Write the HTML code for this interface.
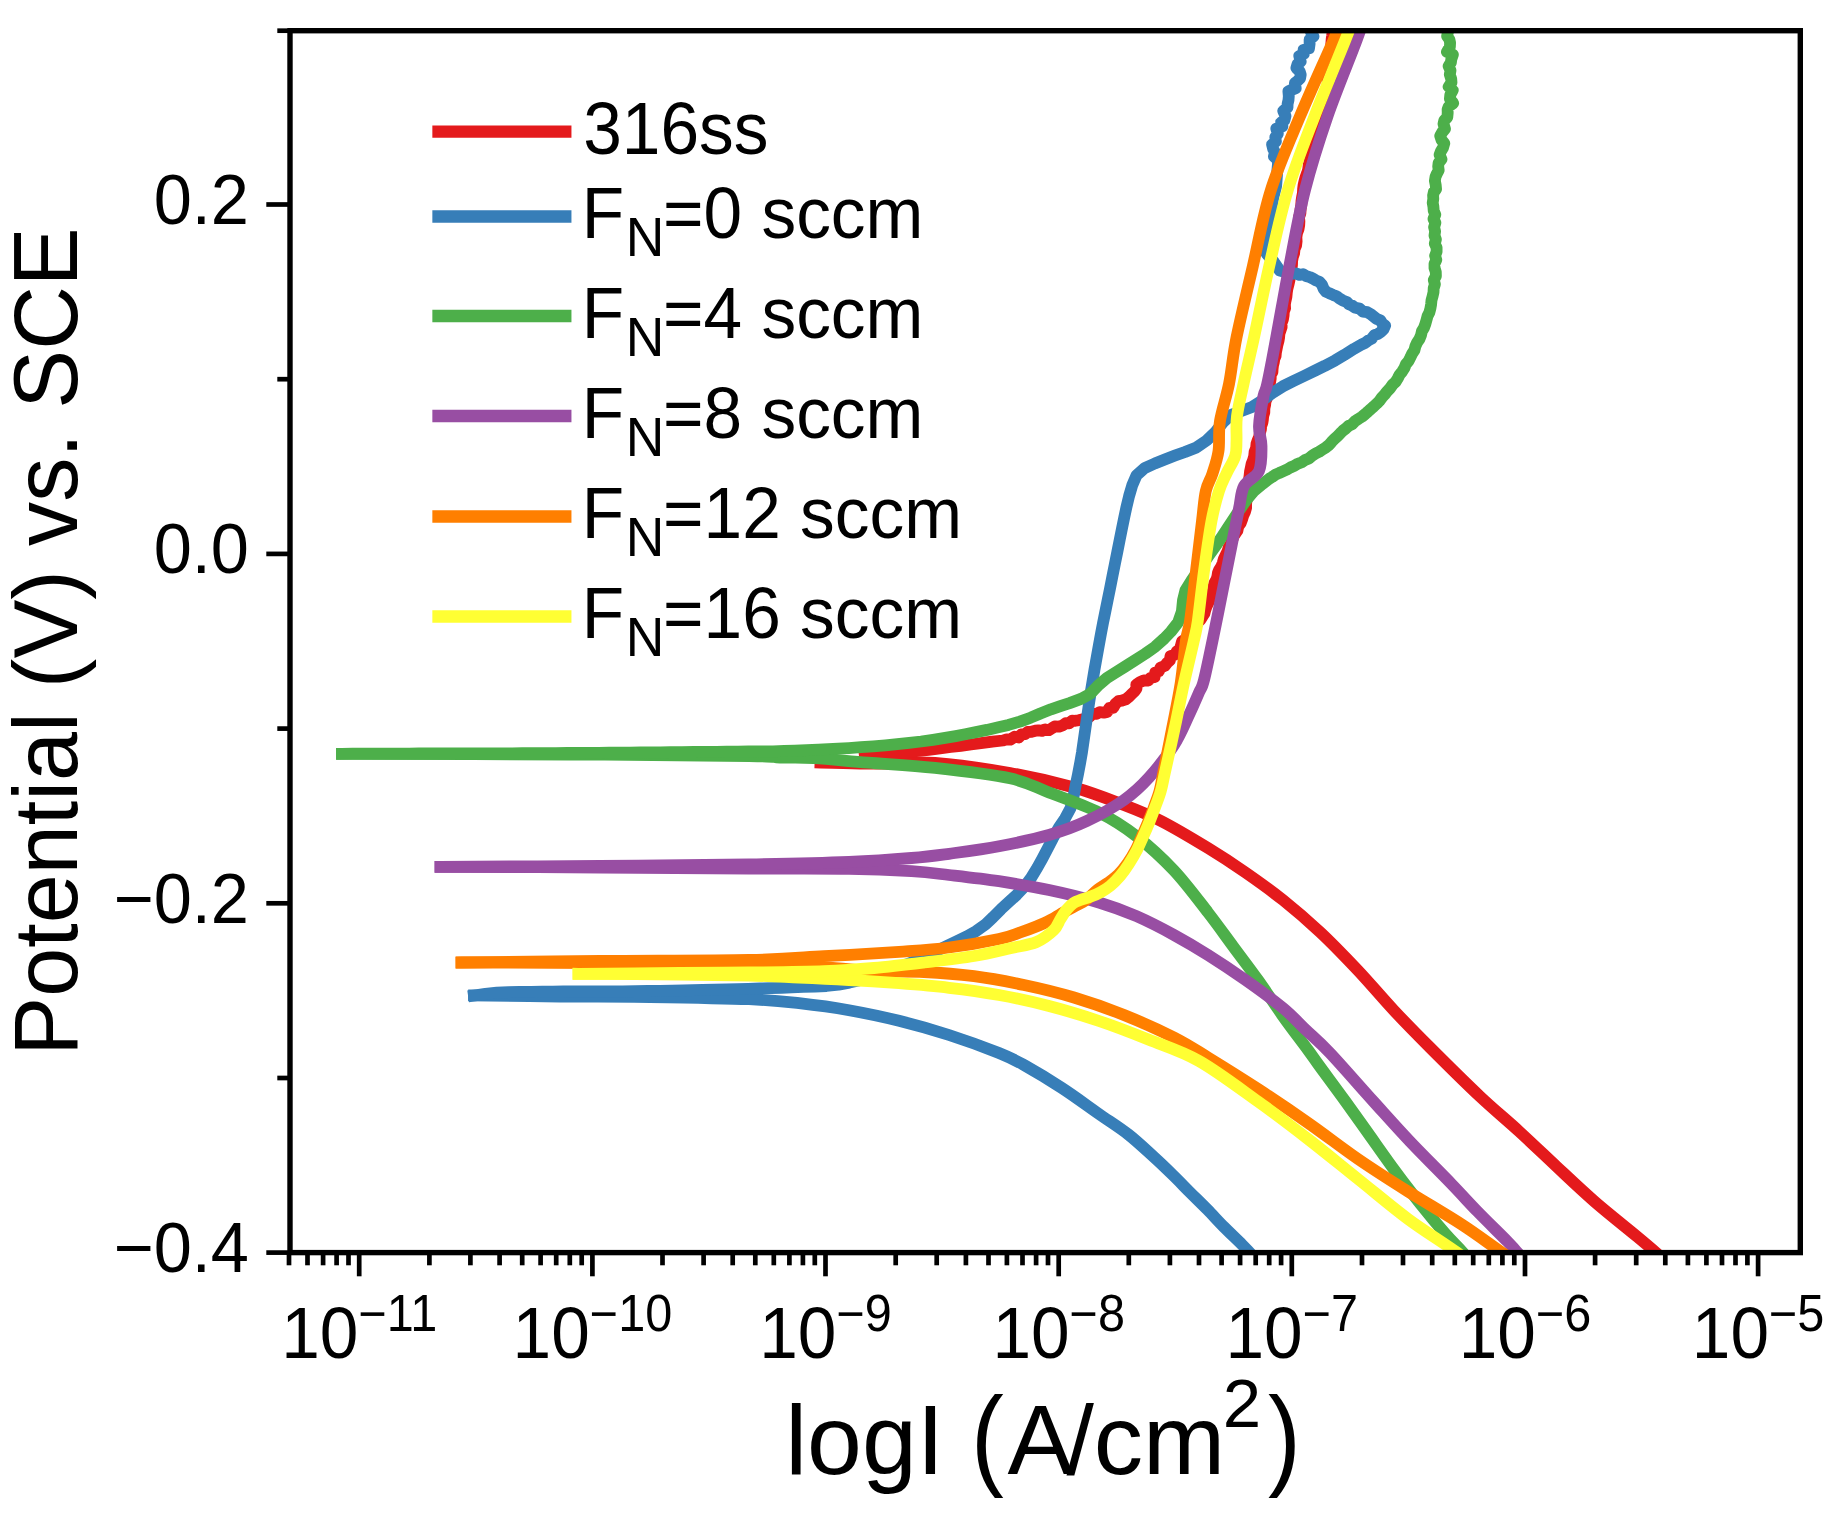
<!DOCTYPE html>
<html><head><meta charset="utf-8"><title>Polarization curves</title>
<style>
html,body{margin:0;padding:0;background:#fff;}
svg{display:block;}
text{font-family:"Liberation Sans",sans-serif;fill:#000;}
</style></head><body>
<svg width="1836" height="1536" viewBox="0 0 1836 1536">
<rect width="1836" height="1536" fill="#fff"/>
<defs><clipPath id="c"><rect x="290.0" y="30.7" width="1510.3" height="1221.8999999999999"/></clipPath></defs>

<g clip-path="url(#c)" fill="none" stroke-linecap="square" stroke-linejoin="round">
<path d="M820.5,762.6 C827.1,762.8 848.4,763.4 860.0,763.5 C871.6,763.6 877.5,763.6 890.0,763.5 C902.5,763.4 915.0,761.4 935.0,763.0 C955.0,764.6 986.8,768.9 1010.0,773.0 C1033.2,777.1 1055.0,782.2 1074.0,787.5 C1093.0,792.8 1109.4,799.4 1124.0,805.0 C1138.6,810.6 1147.5,814.1 1161.5,821.2 C1175.5,828.4 1194.0,839.5 1208.0,848.0 C1222.0,856.5 1233.0,863.8 1245.5,872.5 C1258.0,881.2 1270.5,890.0 1283.0,900.0 C1295.5,910.0 1308.0,920.8 1320.5,932.5 C1333.0,944.2 1345.8,957.6 1358.0,970.5 C1370.2,983.4 1381.5,997.2 1393.5,1010.0 C1405.5,1022.8 1415.6,1033.1 1430.0,1047.5 C1444.4,1061.9 1465.1,1082.5 1480.0,1096.5 C1494.9,1110.5 1506.5,1119.8 1519.2,1131.5 C1532.0,1143.2 1544.0,1154.8 1556.5,1166.5 C1569.0,1178.2 1581.1,1189.8 1594.5,1201.5 C1607.9,1213.2 1626.8,1228.0 1637.0,1236.5 C1647.2,1245.0 1649.0,1246.5 1656.0,1252.6 C1663.0,1258.7 1675.2,1269.6 1679.0,1273.0" stroke="#e41a1c" stroke-width="11.8"/>
<path d="M865.0,757.0 L875.3,755.9 L886.7,754.6 L897.6,753.4 L907.9,752.2 L918.4,751.0 L928.6,749.8 L940.0,748.4 L950.7,747.0 L960.8,745.8 L971.0,744.5 L980.9,743.2 L992.3,741.6 L1003.1,740.5 L1006.7,739.3 L1010.1,739.7 L1014.7,736.7 L1018.9,737.5 L1021.2,734.5 L1024.8,734.2 L1027.7,732.0 L1031.4,731.8 L1035.4,730.7 L1038.6,730.3 L1042.1,730.8 L1045.2,729.4 L1048.8,730.2 L1051.9,728.3 L1054.8,726.4 L1059.1,726.6 L1063.1,725.2 L1065.8,723.1 L1069.3,723.3 L1072.0,720.7 L1075.4,720.8 L1078.6,720.2 L1082.7,719.3 L1086.7,718.8 L1089.7,716.6 L1092.2,713.8 L1096.6,713.9 L1099.7,712.2 L1103.8,712.6 L1107.2,711.9 L1109.4,708.0 L1113.3,707.8 L1115.4,703.9 L1118.3,701.2 L1121.8,700.7 L1125.6,699.4 L1128.7,697.1 L1131.6,694.2 L1134.5,691.3 L1136.5,688.5 L1136.3,684.6 L1139.9,682.2 L1143.8,680.5 L1148.4,680.5 L1150.9,677.5 L1154.6,677.1 L1155.2,672.5 L1158.9,671.2 L1160.4,667.7 L1164.7,665.9 L1167.4,662.6 L1169.9,660.4 L1170.5,656.1 L1175.0,654.7 L1176.7,651.6 L1179.9,648.9 L1181.1,645.0 L1182.0,641.5 L1186.0,638.8 L1188.2,636.5 L1188.9,631.9 L1190.9,629.4 L1194.0,627.5 L1196.4,625.1 L1198.1,622.1 L1200.4,619.8 L1202.6,616.3 L1204.4,613.6 L1205.4,609.6 L1206.8,605.8 L1208.6,602.1 L1210.3,598.2 L1211.5,594.3 L1212.9,590.7 L1213.5,586.9 L1214.4,583.1 L1216.5,579.4 L1217.4,576.4 L1217.9,573.0 L1219.1,570.0 L1221.2,566.8 L1222.7,563.1 L1223.8,559.1 L1225.6,555.3 L1227.5,551.5 L1228.7,547.4 L1230.7,543.8 L1232.2,540.1 L1233.6,536.2 L1235.5,533.4 L1237.4,530.7 L1238.3,526.4 L1240.7,523.0 L1242.2,519.2 L1243.3,515.4 L1244.9,512.0 L1246.1,507.9 L1246.1,503.6 L1246.7,499.5 L1247.2,495.5 L1247.1,491.6 L1247.1,487.8 L1248.0,483.8 L1249.0,479.7 L1249.6,475.7 L1250.0,471.8 L1250.8,467.9 L1251.6,463.9 L1253.1,460.0 L1254.2,456.1 L1254.6,451.9 L1256.1,448.0 L1256.5,443.9 L1257.7,440.2 L1259.2,436.7 L1260.0,432.7 L1260.9,429.5 L1261.2,425.9 L1262.4,422.7 L1262.9,419.5 L1263.2,416.0 L1264.3,412.5 L1264.4,408.4 L1265.1,405.1 L1265.5,401.4 L1267.2,397.5 L1267.5,393.7 L1268.6,390.3 L1268.7,386.5 L1270.0,382.7 L1270.7,378.6 L1270.7,375.2 L1272.4,372.2 L1272.6,368.9 L1273.0,365.5 L1273.8,362.3 L1274.3,359.0 L1275.6,355.9 L1275.9,352.6 L1276.7,348.5 L1277.5,344.6 L1278.5,341.0 L1279.1,337.5 L1279.4,333.8 L1280.5,330.4 L1281.6,327.2 L1281.6,323.0 L1283.0,319.2 L1283.6,315.4 L1283.8,311.8 L1285.1,308.3 L1284.9,304.5 L1285.5,300.9 L1286.4,296.9 L1286.8,292.7 L1287.4,288.7 L1288.4,284.8 L1289.3,280.9 L1290.0,277.0 L1291.0,273.1 L1291.4,269.1 L1292.0,265.0 L1292.1,261.0 L1292.8,257.1 L1294.1,253.3 L1294.5,249.3 L1296.1,245.5 L1296.6,241.4 L1296.4,237.2 L1297.0,233.1 L1298.5,229.1 L1299.2,225.3 L1299.4,221.3 L1299.0,217.2 L1300.4,213.3 L1300.6,209.3 L1301.3,205.2 L1301.5,201.1 L1302.1,197.1 L1302.9,193.1 L1303.1,189.0 L1303.6,185.0 L1304.5,181.0 L1305.6,177.1 L1307.1,173.2 L1308.2,169.2 L1308.7,165.1 L1309.6,161.2 L1310.5,157.3 L1311.7,153.6 L1313.4,150.1 L1313.4,146.8 L1315.3,143.1 L1316.9,139.5 L1317.8,135.7 L1319.3,132.1 L1319.7,128.1 L1321.4,124.5 L1322.8,120.4 L1322.8,117.0 L1323.7,113.3 L1324.6,109.5 L1325.6,105.5 L1325.9,101.3 L1326.3,98.1 L1326.5,94.9 L1326.6,91.6 L1327.7,88.5 L1327.9,84.3 L1327.4,80.1 L1328.9,76.3 L1329.1,72.6 L1328.6,68.7 L1329.8,65.2 L1330.4,61.9 L1330.1,57.7 L1330.8,53.9 L1330.6,50.1 L1331.1,46.5 L1331.4,42.8 L1331.7,38.9 L1332.2,35.6 L1332.5,32.2 L1333.3,28.7 L1333.8,25.3 L1334.5,22.0 L1335.0,18.0 L1334.2,14.5 L1335.0,12.0" stroke="#e41a1c" stroke-width="11.8"/>
<path d="M474.0,995.5 C488.3,995.7 530.7,996.2 560.0,996.5 C589.3,996.8 618.5,996.5 650.0,997.0 C681.5,997.5 724.2,998.2 749.0,999.2 C773.8,1000.3 782.3,1001.4 799.0,1003.2 C815.7,1005.1 832.3,1007.3 849.0,1010.2 C865.7,1013.2 882.3,1016.6 899.0,1020.8 C915.7,1024.9 932.3,1029.6 949.0,1035.0 C965.7,1040.4 986.5,1048.0 999.0,1053.0 C1011.5,1058.0 1013.6,1059.2 1024.0,1065.0 C1034.4,1070.8 1049.0,1079.6 1061.5,1087.8 C1074.0,1095.9 1087.8,1106.2 1099.0,1114.0 C1110.2,1121.8 1119.2,1127.3 1128.4,1134.5 C1137.6,1141.7 1146.9,1150.7 1154.3,1157.4 C1161.7,1164.1 1166.8,1169.1 1172.7,1174.9 C1178.7,1180.7 1184.2,1186.5 1190.0,1192.3 C1195.8,1198.1 1201.8,1203.9 1207.5,1209.7 C1213.2,1215.5 1218.2,1221.2 1224.0,1227.0 C1229.8,1232.8 1237.7,1240.3 1242.0,1244.6 C1246.3,1248.9 1245.7,1248.4 1250.0,1253.0 C1254.3,1257.6 1265.0,1268.8 1268.0,1272.0" stroke="#377eb8" stroke-width="11.8"/>
<path d="M474.0,995.5 L485.3,993.8 L496.8,992.7 L508.5,992.2 L519.2,991.9 L531.2,991.8 L542.1,991.7 L552.6,991.6 L563.4,991.5 L574.1,991.4 L585.5,991.4 L597.4,991.3 L609.8,991.3 L622.5,991.3 L635.2,991.2 L647.9,991.0 L659.9,990.8 L672.3,990.6 L683.1,990.4 L692.8,990.2 L702.5,989.9 L714.2,989.7 L726.3,989.3 L737.5,989.1 L748.2,988.8 L759.8,988.5 L770.8,988.1 L781.7,987.8 L791.8,987.4 L803.1,986.8 L815.0,986.5 L826.5,986.0 L838.6,984.7 L849.4,982.6 L860.6,979.9 L872.4,976.5 L884.3,972.7 L896.1,968.6 L907.5,964.1 L917.4,959.9 L926.3,955.8 L936.8,950.9 L947.2,945.8 L956.6,941.3 L966.9,936.3 L976.2,931.1 L985.7,924.2 L992.9,917.4 L1000.9,909.3 L1008.5,902.2 L1016.7,894.8 L1024.8,886.3 L1031.1,877.9 L1037.4,867.5 L1042.2,858.8 L1047.9,848.0 L1052.8,838.5 L1058.7,827.8 L1065.0,818.6 L1070.5,808.2 L1073.5,796.6 L1075.5,786.1 L1077.9,774.7 L1080.2,762.6 L1082.0,752.2 L1083.7,740.3 L1085.5,727.8 L1087.3,715.5 L1089.0,703.7 L1090.8,691.8 L1092.6,681.1 L1094.5,669.5 L1096.7,657.3 L1098.9,645.0 L1101.0,633.5 L1103.0,623.0 L1105.4,611.3 L1107.7,599.9 L1110.1,588.1 L1112.4,576.3 L1114.8,564.4 L1117.2,552.5 L1119.6,540.3 L1122.0,528.4 L1124.2,517.6 L1126.3,507.8 L1129.1,496.0 L1132.3,485.1 L1136.5,475.4 L1144.6,468.2 L1154.8,463.5 L1164.8,459.5 L1175.0,455.6 L1185.0,452.0 L1196.5,447.4 L1206.6,440.5 L1215.2,432.3 L1222.6,422.8 L1231.3,414.7 L1242.8,410.5 L1252.0,407.0 L1262.3,400.5 L1272.3,393.0 L1282.7,386.4 L1293.5,381.0 L1304.0,376.0 L1315.0,370.6 L1324.6,365.9 L1335.1,360.4 L1344.3,354.9 L1354.0,348.8 L1361.4,344.7 L1365.2,342.9 L1368.4,340.4 L1371.7,338.6 L1374.5,335.0 L1378.2,333.8 L1381.1,331.7 L1383.6,329.1 L1385.1,325.7 L1382.1,323.3 L1380.3,320.2 L1376.6,318.9 L1373.8,316.6 L1370.7,314.1 L1367.2,312.2 L1362.9,311.6 L1359.6,308.6 L1355.4,307.8 L1352.0,305.5 L1349.0,304.3 L1346.7,301.9 L1342.7,300.4 L1339.3,298.4 L1336.5,296.2 L1333.1,294.9 L1329.3,293.3 L1326.0,291.7 L1323.6,288.7 L1322.0,284.8 L1319.6,281.9 L1315.9,280.3 L1313.0,278.6 L1309.9,277.1 L1306.7,276.3 L1303.0,274.2 L1299.6,274.9 L1295.6,273.3 L1291.5,273.8 L1279.8,270.6 L1273.9,262.0 L1266.5,253.6 L1265.9,242.3 L1267.7,232.5 L1269.4,222.0 L1271.2,209.6 L1273.2,197.8 L1276.1,186.2 L1277.1,173.8 L1278.0,163.5 L1277.4,159.4 L1273.9,156.5 L1274.9,152.2 L1273.2,149.0 L1272.1,144.5 L1275.9,141.6 L1275.3,137.2 L1277.8,133.7 L1276.3,128.5 L1282.4,126.5 L1281.2,122.4 L1284.5,120.2 L1285.5,116.0 L1283.3,111.1 L1287.5,107.5 L1287.6,104.1 L1288.5,100.0 L1288.8,96.1 L1288.4,91.4 L1292.0,89.7 L1295.7,88.2 L1294.9,83.1 L1297.8,80.7 L1300.1,78.4 L1300.7,74.7 L1299.7,71.3 L1296.4,68.0 L1297.5,64.2 L1300.7,61.7 L1299.3,56.0 L1303.8,53.8 L1303.6,49.9 L1309.0,48.4 L1309.6,44.0 L1309.6,39.6 L1313.4,36.4 L1311.0,31.9 L1312.2,27.9 L1315.3,25.0 L1314.5,21.4 L1315.3,18.2 L1314.0,15.0" stroke="#377eb8" stroke-width="11.8"/>
<path d="M342.0,753.8 C380.0,753.9 502.2,754.1 570.0,754.5 C637.8,754.9 714.0,755.5 749.0,756.0 C784.0,756.5 769.2,757.1 780.0,757.5 C790.8,757.9 799.3,757.2 814.0,758.1 C828.7,759.0 847.8,761.0 868.0,762.6 C888.2,764.2 911.3,765.3 935.0,767.9 C958.7,770.5 991.0,774.2 1010.0,778.3 C1029.0,782.4 1034.2,786.8 1049.0,792.5 C1063.8,798.2 1084.4,805.2 1099.0,812.5 C1113.6,819.8 1124.0,826.6 1136.5,836.2 C1149.0,845.9 1162.1,857.8 1174.0,870.5 C1185.9,883.2 1198.2,899.9 1208.0,912.5 C1217.8,925.1 1224.7,935.0 1233.0,946.2 C1241.3,957.5 1249.7,968.3 1258.0,980.0 C1266.3,991.7 1274.7,1004.6 1283.0,1016.2 C1291.3,1027.9 1302.2,1042.0 1308.0,1050.0 C1313.8,1058.0 1311.8,1055.4 1318.0,1064.0 C1324.2,1072.6 1336.8,1089.4 1345.5,1101.5 C1354.2,1113.6 1362.2,1124.8 1370.5,1136.5 C1378.8,1148.2 1387.2,1160.2 1395.5,1171.5 C1403.8,1182.8 1412.2,1193.6 1420.5,1204.0 C1428.8,1214.4 1438.4,1225.9 1445.5,1234.0 C1452.6,1242.1 1457.2,1246.1 1463.0,1252.6 C1468.8,1259.1 1477.2,1269.6 1480.0,1273.0" stroke="#4daf4a" stroke-width="11.8"/>
<path d="M342.0,753.8 L352.5,753.7 L363.4,753.7 L374.1,753.7 L385.1,753.6 L396.8,753.6 L409.2,753.6 L418.9,753.5 L428.9,753.5 L439.1,753.5 L449.4,753.5 L459.9,753.4 L470.4,753.4 L481.0,753.4 L491.5,753.3 L501.9,753.3 L512.2,753.3 L522.3,753.2 L532.2,753.2 L543.8,753.1 L555.9,753.1 L567.3,753.0 L578.0,753.0 L588.4,752.9 L598.8,752.8 L609.2,752.7 L619.6,752.7 L630.0,752.6 L640.3,752.5 L650.4,752.4 L660.4,752.3 L670.2,752.2 L681.8,752.1 L694.0,752.0 L705.6,751.9 L716.5,751.8 L726.6,751.7 L738.0,751.6 L748.4,751.5 L761.9,751.4 L773.2,751.4 L784.4,750.9 L794.8,750.6 L806.6,750.1 L818.3,749.6 L828.2,749.2 L838.1,748.7 L848.9,748.1 L861.0,747.2 L873.3,746.3 L885.4,745.3 L897.3,744.1 L909.2,742.9 L921.1,741.5 L933.0,739.8 L945.1,737.9 L955.7,736.1 L965.2,734.3 L974.8,732.4 L987.0,729.9 L998.4,727.3 L1008.5,724.9 L1019.9,721.6 L1030.6,717.7 L1040.4,713.5 L1051.0,709.3 L1060.3,706.1 L1069.6,703.1 L1081.0,698.9 L1090.6,693.6 L1098.4,685.2 L1106.9,677.9 L1117.2,671.4 L1125.4,666.4 L1135.8,659.8 L1145.4,653.6 L1155.2,646.7 L1164.3,638.5 L1171.0,631.5 L1178.1,622.4 L1181.9,611.3 L1183.0,600.2 L1185.4,590.4 L1191.3,580.9 L1197.3,572.0 L1203.4,563.3 L1209.4,554.7 L1215.9,545.5 L1221.9,536.7 L1227.8,527.8 L1234.4,517.8 L1240.3,508.8 L1246.6,499.7 L1254.0,491.0 L1262.7,483.8 L1269.4,478.6 L1272.1,477.0 L1275.5,474.7 L1279.2,473.0 L1282.9,471.4 L1286.7,469.7 L1290.4,467.5 L1294.2,465.8 L1297.9,463.7 L1301.8,462.3 L1305.1,459.9 L1308.9,458.4 L1312.1,455.7 L1315.6,453.5 L1319.2,451.7 L1322.4,449.6 L1325.9,447.4 L1329.1,444.8 L1331.7,441.8 L1334.4,438.9 L1337.5,436.3 L1340.4,433.2 L1342.8,430.8 L1345.8,428.5 L1348.6,425.9 L1352.2,424.2 L1355.1,421.2 L1358.5,418.9 L1362.1,416.6 L1365.4,413.9 L1367.8,411.8 L1370.7,409.1 L1373.7,406.5 L1376.6,403.8 L1379.5,400.9 L1381.9,397.5 L1384.7,394.5 L1387.3,391.2 L1390.2,388.1 L1392.6,384.6 L1395.6,381.9 L1397.7,378.5 L1399.5,374.9 L1402.1,371.7 L1404.3,368.2 L1405.9,364.3 L1408.5,361.1 L1410.4,357.4 L1412.1,353.7 L1414.4,350.2 L1415.4,346.2 L1417.1,342.5 L1419.4,339.1 L1421.0,335.3 L1421.9,331.3 L1424.0,327.7 L1425.4,323.9 L1426.5,320.0 L1427.5,316.2 L1429.3,312.6 L1430.4,308.5 L1431.1,304.4 L1431.5,300.3 L1432.6,296.3 L1433.5,292.3 L1433.7,288.2 L1434.9,284.2 L1433.8,280.0 L1435.9,276.1 L1435.8,272.0 L1434.5,267.9 L1434.5,263.8 L1436.3,259.8 L1435.1,255.7 L1436.6,251.7 L1436.6,247.6 L1434.8,243.6 L1435.9,239.5 L1434.5,235.5 L1435.1,231.3 L1434.1,227.2 L1435.4,222.9 L1433.5,218.9 L1435.3,214.6 L1433.7,210.6 L1433.4,206.6 L1432.7,202.8 L1433.3,198.8 L1433.1,195.5 L1433.8,192.2 L1436.1,189.2 L1435.7,185.0 L1434.9,180.8 L1435.5,176.9 L1437.0,173.4 L1438.7,170.2 L1438.2,166.4 L1438.6,162.9 L1441.5,159.3 L1439.6,154.8 L1440.8,151.5 L1443.0,147.7 L1444.3,143.4 L1441.5,139.8 L1440.2,135.9 L1442.3,132.1 L1445.0,128.9 L1443.5,123.8 L1444.3,120.5 L1447.3,117.2 L1447.7,113.0 L1447.6,109.6 L1448.7,106.6 L1453.2,103.2 L1449.9,98.9 L1450.3,94.9 L1452.7,90.2 L1448.7,86.8 L1451.5,82.5 L1451.2,78.8 L1449.8,74.5 L1450.5,70.4 L1448.6,66.1 L1450.9,62.5 L1451.3,59.3 L1452.9,54.6 L1446.9,51.9 L1449.9,46.8 L1450.1,42.7 L1449.4,39.5 L1447.1,36.2 L1447.8,32.7 L1445.8,28.7 L1443.9,25.1 L1446.5,25.0" stroke="#4daf4a" stroke-width="11.8"/>
<path d="M440.5,866.8 C467.1,866.9 548.6,867.2 600.0,867.5 C651.4,867.8 707.5,868.3 749.0,868.5 C790.5,868.7 821.9,868.3 849.0,868.8 C876.1,869.2 894.8,870.2 911.5,871.2 C928.2,872.3 934.4,873.3 949.0,875.0 C963.6,876.7 982.3,878.8 999.0,881.2 C1015.7,883.8 1032.3,886.5 1049.0,890.0 C1065.7,893.5 1084.4,898.1 1099.0,902.5 C1113.6,906.9 1124.0,910.8 1136.5,916.2 C1149.0,921.7 1162.1,928.5 1174.0,935.0 C1185.9,941.5 1196.1,947.5 1208.0,955.0 C1219.9,962.5 1233.0,971.2 1245.5,980.0 C1258.0,988.8 1272.9,999.7 1283.0,1008.0 C1293.1,1016.3 1298.2,1022.6 1306.0,1030.0 C1313.8,1037.4 1318.2,1040.6 1329.5,1052.5 C1340.8,1064.4 1360.1,1086.7 1373.5,1101.5 C1386.9,1116.3 1397.0,1127.8 1410.0,1141.5 C1423.0,1155.2 1440.2,1172.3 1451.5,1184.0 C1462.8,1195.7 1468.2,1201.9 1477.5,1211.5 C1486.8,1221.1 1501.0,1234.8 1507.5,1241.5 C1514.0,1248.2 1511.8,1246.4 1516.5,1251.5 C1521.2,1256.6 1532.8,1268.6 1536.0,1272.0" stroke="#984ea3" stroke-width="11.8"/>
<path d="M440.5,866.8 C467.1,866.6 548.6,866.4 600.0,866.0 C651.4,865.6 707.5,865.2 749.0,864.5 C790.5,863.8 821.9,863.1 849.0,862.0 C876.1,860.9 894.8,859.4 911.5,858.0 C928.2,856.6 934.4,855.7 949.0,853.8 C963.6,851.8 982.3,849.4 999.0,846.2 C1015.7,843.1 1034.4,839.2 1049.0,835.0 C1063.6,830.8 1074.0,827.1 1086.5,821.2 C1099.0,815.4 1113.6,807.3 1124.0,800.0 C1134.4,792.7 1140.7,786.7 1149.0,777.5 C1157.3,768.3 1167.3,755.4 1174.0,745.0 C1180.7,734.6 1184.8,723.8 1189.0,715.0 C1193.2,706.2 1196.5,698.3 1199.0,692.5 C1201.5,686.7 1201.5,689.8 1204.0,680.0 C1206.5,670.2 1210.7,649.6 1214.0,633.5 C1217.3,617.4 1221.1,598.1 1224.0,583.5 C1226.9,568.9 1229.0,558.5 1231.5,546.0 C1234.0,533.5 1236.9,518.5 1239.0,508.5 C1241.1,498.5 1240.7,492.2 1244.0,486.0 C1247.3,479.8 1256.1,477.7 1259.0,471.0 C1261.9,464.3 1261.5,453.5 1261.5,446.0 C1261.5,438.5 1258.7,434.3 1259.0,426.0 C1259.3,417.7 1262.1,403.0 1263.5,396.0 C1264.9,389.0 1265.1,393.8 1267.2,384.0 C1269.4,374.2 1272.6,357.1 1276.2,337.5 C1279.9,317.9 1284.5,290.9 1289.3,266.3 C1294.1,241.7 1298.6,215.0 1305.0,190.0 C1311.4,165.0 1318.9,141.3 1327.5,116.3 C1336.1,91.3 1350.3,57.4 1356.7,40.0 C1363.1,22.6 1364.5,16.7 1366.0,12.0" stroke="#984ea3" stroke-width="11.8"/>
<path d="M461.5,962.5 C484.6,962.6 552.1,962.8 600.0,963.0 C647.9,963.2 711.7,963.2 749.0,964.0 C786.3,964.8 802.8,966.3 824.0,967.5 C845.2,968.7 859.8,970.5 876.5,971.2 C893.2,972.0 907.8,971.2 924.0,972.0 C940.2,972.8 957.3,974.1 974.0,976.2 C990.7,978.4 1007.3,981.5 1024.0,985.0 C1040.7,988.5 1057.3,992.5 1074.0,997.5 C1090.7,1002.5 1107.3,1008.3 1124.0,1015.0 C1140.7,1021.7 1160.0,1030.4 1174.0,1037.5 C1188.0,1044.6 1194.0,1048.9 1208.0,1057.5 C1222.0,1066.1 1241.3,1078.1 1258.0,1089.0 C1274.7,1099.9 1291.3,1111.1 1308.0,1122.8 C1324.7,1134.4 1341.3,1147.5 1358.0,1159.0 C1374.7,1170.5 1390.8,1180.7 1408.0,1191.5 C1425.2,1202.3 1445.3,1213.8 1461.0,1224.0 C1476.7,1234.2 1489.7,1244.1 1502.0,1252.6 C1514.3,1261.1 1529.5,1271.3 1535.0,1275.0" stroke="#ff7f00" stroke-width="11.8"/>
<path d="M461.5,962.5 C484.6,962.2 552.1,961.4 600.0,961.0 C647.9,960.6 711.7,960.8 749.0,960.0 C786.3,959.2 799.0,957.6 824.0,956.2 C849.0,954.9 878.2,953.2 899.0,951.8 C919.8,950.3 932.3,949.6 949.0,947.5 C965.7,945.4 987.2,941.5 999.0,939.0 C1010.8,936.5 1013.8,934.6 1020.0,932.5 C1026.2,930.4 1031.2,928.6 1036.3,926.5 C1041.4,924.4 1046.0,922.4 1050.5,920.0 C1055.0,917.6 1059.6,914.7 1063.6,912.4 C1067.6,910.1 1070.9,908.4 1074.5,906.4 C1078.1,904.4 1081.5,903.3 1085.4,900.5 C1089.3,897.7 1094.3,892.4 1098.0,889.5 C1101.7,886.6 1104.3,885.5 1107.7,883.0 C1111.1,880.5 1115.2,877.8 1118.5,874.5 C1121.8,871.2 1124.9,867.2 1127.7,863.2 C1130.5,859.2 1133.1,854.8 1135.5,850.3 C1137.9,845.8 1139.8,841.1 1142.0,836.2 C1144.2,831.3 1146.5,825.9 1148.5,821.0 C1150.5,816.1 1152.2,811.9 1154.0,806.9 C1155.8,801.9 1158.0,796.8 1159.6,790.8 C1161.2,784.8 1161.6,781.3 1163.7,770.7 C1165.8,760.1 1169.6,741.5 1172.4,727.0 C1175.2,712.5 1178.3,698.1 1180.6,683.6 C1182.9,669.1 1184.4,650.4 1186.0,640.0 C1187.6,629.6 1188.3,632.5 1190.0,621.0 C1191.7,609.5 1194.0,587.7 1196.0,571.0 C1198.0,554.3 1200.4,534.3 1202.0,521.0 C1203.6,507.7 1204.0,498.9 1205.8,491.0 C1207.5,483.1 1210.4,480.2 1212.5,473.5 C1214.6,466.8 1217.2,459.8 1218.5,451.0 C1219.8,442.2 1218.2,432.2 1220.0,421.0 C1221.8,409.8 1226.2,397.9 1229.0,384.0 C1231.8,370.1 1232.5,357.1 1236.5,337.5 C1240.5,317.9 1247.1,290.9 1252.8,266.3 C1258.5,241.7 1263.0,215.0 1270.9,190.0 C1278.8,165.0 1289.5,141.3 1300.0,116.3 C1310.5,91.3 1326.1,57.4 1333.6,40.0 C1341.1,22.6 1343.1,16.7 1345.0,12.0" stroke="#ff7f00" stroke-width="11.8"/>
<path d="M578.5,973.8 C595.4,973.9 651.6,974.2 680.0,974.5 C708.4,974.8 729.2,975.0 749.0,975.5 C768.8,976.0 782.3,976.8 799.0,977.5 C815.7,978.2 832.3,979.0 849.0,980.0 C865.7,981.0 882.3,982.0 899.0,983.2 C915.7,984.5 932.3,985.8 949.0,987.8 C965.7,989.7 982.3,992.0 999.0,995.0 C1015.7,998.0 1032.3,1001.7 1049.0,1006.0 C1065.7,1010.3 1082.3,1015.4 1099.0,1021.0 C1115.7,1026.6 1132.3,1033.1 1149.0,1039.8 C1165.7,1046.4 1180.8,1050.7 1199.0,1061.0 C1217.2,1071.3 1239.8,1088.5 1258.0,1101.5 C1276.2,1114.5 1291.3,1126.1 1308.0,1139.0 C1324.7,1151.9 1341.3,1165.7 1358.0,1179.0 C1374.7,1192.3 1391.5,1206.7 1408.0,1219.0 C1424.5,1231.3 1444.5,1243.4 1457.0,1252.6 C1469.5,1261.8 1478.7,1270.4 1483.0,1274.0" stroke="#ffff33" stroke-width="11.8"/>
<path d="M578.5,973.8 C595.4,973.6 651.6,973.2 680.0,973.0 C708.4,972.8 725.0,972.8 749.0,972.5 C773.0,972.2 803.2,972.0 824.0,971.2 C844.8,970.5 857.3,969.5 874.0,968.0 C890.7,966.5 907.3,964.5 924.0,962.5 C940.7,960.5 959.4,958.4 974.0,956.0 C988.6,953.6 1001.1,950.3 1011.5,948.0 C1021.9,945.7 1029.5,945.0 1036.5,942.0 C1043.5,939.0 1049.8,933.8 1053.8,930.0 C1057.8,926.2 1058.1,922.8 1060.3,919.4 C1062.5,916.0 1064.6,912.3 1066.8,909.6 C1069.0,906.9 1071.0,904.7 1073.4,903.1 C1075.8,901.5 1078.1,900.9 1081.0,899.8 C1083.9,898.7 1087.5,897.9 1090.8,896.6 C1094.1,895.3 1097.3,894.0 1100.6,892.2 C1103.9,890.4 1107.1,888.4 1110.4,885.7 C1113.7,883.0 1117.1,879.5 1120.2,875.9 C1123.3,872.3 1126.2,868.1 1128.9,863.9 C1131.6,859.7 1134.2,855.3 1136.6,850.8 C1139.0,846.2 1140.9,841.5 1143.1,836.6 C1145.3,831.7 1147.6,826.3 1149.6,821.4 C1151.6,816.5 1153.2,812.3 1155.1,807.2 C1157.0,802.1 1159.1,797.1 1160.8,791.0 C1162.5,784.9 1162.9,781.4 1165.3,770.7 C1167.7,760.1 1171.8,741.6 1174.9,727.1 C1178.0,712.6 1180.7,698.1 1183.9,683.6 C1187.1,669.1 1191.7,650.4 1194.0,640.0 C1196.3,629.6 1196.1,632.5 1197.8,621.0 C1199.4,609.5 1201.7,587.7 1204.0,571.0 C1206.3,554.3 1209.0,534.3 1211.5,521.0 C1214.0,507.7 1216.5,498.9 1219.0,491.0 C1221.5,483.1 1223.8,479.3 1226.5,473.5 C1229.2,467.7 1233.6,461.4 1235.2,456.0 C1236.9,450.6 1236.2,447.7 1236.5,441.0 C1236.8,434.3 1235.8,425.5 1237.0,416.0 C1238.2,406.5 1240.7,397.1 1243.5,384.0 C1246.3,370.9 1249.7,357.1 1254.0,337.5 C1258.3,317.9 1263.6,290.9 1269.2,266.3 C1274.8,241.7 1280.2,215.0 1287.8,190.0 C1295.3,165.0 1304.9,141.3 1314.5,116.3 C1324.1,91.3 1338.4,57.4 1345.3,40.0 C1352.2,22.6 1354.2,16.7 1356.0,12.0" stroke="#ffff33" stroke-width="11.8"/>
</g>
<g stroke="#000" stroke-width="5.4" fill="none" stroke-linecap="butt">
<rect x="290.0" y="30.7" width="1510.3" height="1221.8999999999999"/>
<line x1="266.3" x2="290.0" y1="204.5" y2="204.5" stroke-width="4.7"/>
<line x1="266.3" x2="290.0" y1="553.9" y2="553.9" stroke-width="4.7"/>
<line x1="266.3" x2="290.0" y1="903.3" y2="903.3" stroke-width="4.7"/>
<line x1="266.3" x2="290.0" y1="1252.6" y2="1252.6" stroke-width="4.7"/>
<line x1="277.3" x2="290.0" y1="30.7" y2="30.7" stroke-width="4.7"/>
<line x1="277.3" x2="290.0" y1="379.2" y2="379.2" stroke-width="4.7"/>
<line x1="277.3" x2="290.0" y1="728.6" y2="728.6" stroke-width="4.7"/>
<line x1="277.3" x2="290.0" y1="1078.0" y2="1078.0" stroke-width="4.7"/>
<line x1="359.2" x2="359.2" y1="1252.6" y2="1276.3" stroke-width="4.7"/>
<line x1="592.4" x2="592.4" y1="1252.6" y2="1276.3" stroke-width="4.7"/>
<line x1="825.5" x2="825.5" y1="1252.6" y2="1276.3" stroke-width="4.7"/>
<line x1="1058.7" x2="1058.7" y1="1252.6" y2="1276.3" stroke-width="4.7"/>
<line x1="1291.8" x2="1291.8" y1="1252.6" y2="1276.3" stroke-width="4.7"/>
<line x1="1525.0" x2="1525.0" y1="1252.6" y2="1276.3" stroke-width="4.7"/>
<line x1="1758.1" x2="1758.1" y1="1252.6" y2="1276.3" stroke-width="4.7"/>
<line x1="289.0" x2="289.0" y1="1252.6" y2="1265.3" stroke-width="4.7"/>
<line x1="307.5" x2="307.5" y1="1252.6" y2="1265.3" stroke-width="4.7"/>
<line x1="323.1" x2="323.1" y1="1252.6" y2="1265.3" stroke-width="4.7"/>
<line x1="336.6" x2="336.6" y1="1252.6" y2="1265.3" stroke-width="4.7"/>
<line x1="348.5" x2="348.5" y1="1252.6" y2="1265.3" stroke-width="4.7"/>
<line x1="429.4" x2="429.4" y1="1252.6" y2="1265.3" stroke-width="4.7"/>
<line x1="470.4" x2="470.4" y1="1252.6" y2="1265.3" stroke-width="4.7"/>
<line x1="499.6" x2="499.6" y1="1252.6" y2="1265.3" stroke-width="4.7"/>
<line x1="522.2" x2="522.2" y1="1252.6" y2="1265.3" stroke-width="4.7"/>
<line x1="540.6" x2="540.6" y1="1252.6" y2="1265.3" stroke-width="4.7"/>
<line x1="556.2" x2="556.2" y1="1252.6" y2="1265.3" stroke-width="4.7"/>
<line x1="569.8" x2="569.8" y1="1252.6" y2="1265.3" stroke-width="4.7"/>
<line x1="581.7" x2="581.7" y1="1252.6" y2="1265.3" stroke-width="4.7"/>
<line x1="662.5" x2="662.5" y1="1252.6" y2="1265.3" stroke-width="4.7"/>
<line x1="703.6" x2="703.6" y1="1252.6" y2="1265.3" stroke-width="4.7"/>
<line x1="732.7" x2="732.7" y1="1252.6" y2="1265.3" stroke-width="4.7"/>
<line x1="755.3" x2="755.3" y1="1252.6" y2="1265.3" stroke-width="4.7"/>
<line x1="773.8" x2="773.8" y1="1252.6" y2="1265.3" stroke-width="4.7"/>
<line x1="789.4" x2="789.4" y1="1252.6" y2="1265.3" stroke-width="4.7"/>
<line x1="802.9" x2="802.9" y1="1252.6" y2="1265.3" stroke-width="4.7"/>
<line x1="814.8" x2="814.8" y1="1252.6" y2="1265.3" stroke-width="4.7"/>
<line x1="895.7" x2="895.7" y1="1252.6" y2="1265.3" stroke-width="4.7"/>
<line x1="936.7" x2="936.7" y1="1252.6" y2="1265.3" stroke-width="4.7"/>
<line x1="965.9" x2="965.9" y1="1252.6" y2="1265.3" stroke-width="4.7"/>
<line x1="988.5" x2="988.5" y1="1252.6" y2="1265.3" stroke-width="4.7"/>
<line x1="1006.9" x2="1006.9" y1="1252.6" y2="1265.3" stroke-width="4.7"/>
<line x1="1022.5" x2="1022.5" y1="1252.6" y2="1265.3" stroke-width="4.7"/>
<line x1="1036.1" x2="1036.1" y1="1252.6" y2="1265.3" stroke-width="4.7"/>
<line x1="1048.0" x2="1048.0" y1="1252.6" y2="1265.3" stroke-width="4.7"/>
<line x1="1128.8" x2="1128.8" y1="1252.6" y2="1265.3" stroke-width="4.7"/>
<line x1="1169.9" x2="1169.9" y1="1252.6" y2="1265.3" stroke-width="4.7"/>
<line x1="1199.0" x2="1199.0" y1="1252.6" y2="1265.3" stroke-width="4.7"/>
<line x1="1221.6" x2="1221.6" y1="1252.6" y2="1265.3" stroke-width="4.7"/>
<line x1="1240.1" x2="1240.1" y1="1252.6" y2="1265.3" stroke-width="4.7"/>
<line x1="1255.7" x2="1255.7" y1="1252.6" y2="1265.3" stroke-width="4.7"/>
<line x1="1269.2" x2="1269.2" y1="1252.6" y2="1265.3" stroke-width="4.7"/>
<line x1="1281.1" x2="1281.1" y1="1252.6" y2="1265.3" stroke-width="4.7"/>
<line x1="1362.0" x2="1362.0" y1="1252.6" y2="1265.3" stroke-width="4.7"/>
<line x1="1403.0" x2="1403.0" y1="1252.6" y2="1265.3" stroke-width="4.7"/>
<line x1="1432.2" x2="1432.2" y1="1252.6" y2="1265.3" stroke-width="4.7"/>
<line x1="1454.8" x2="1454.8" y1="1252.6" y2="1265.3" stroke-width="4.7"/>
<line x1="1473.2" x2="1473.2" y1="1252.6" y2="1265.3" stroke-width="4.7"/>
<line x1="1488.8" x2="1488.8" y1="1252.6" y2="1265.3" stroke-width="4.7"/>
<line x1="1502.4" x2="1502.4" y1="1252.6" y2="1265.3" stroke-width="4.7"/>
<line x1="1514.3" x2="1514.3" y1="1252.6" y2="1265.3" stroke-width="4.7"/>
<line x1="1595.1" x2="1595.1" y1="1252.6" y2="1265.3" stroke-width="4.7"/>
<line x1="1636.2" x2="1636.2" y1="1252.6" y2="1265.3" stroke-width="4.7"/>
<line x1="1665.3" x2="1665.3" y1="1252.6" y2="1265.3" stroke-width="4.7"/>
<line x1="1687.9" x2="1687.9" y1="1252.6" y2="1265.3" stroke-width="4.7"/>
<line x1="1706.4" x2="1706.4" y1="1252.6" y2="1265.3" stroke-width="4.7"/>
<line x1="1722.0" x2="1722.0" y1="1252.6" y2="1265.3" stroke-width="4.7"/>
<line x1="1735.5" x2="1735.5" y1="1252.6" y2="1265.3" stroke-width="4.7"/>
<line x1="1747.4" x2="1747.4" y1="1252.6" y2="1265.3" stroke-width="4.7"/>
</g>
<text transform="translate(249.0,223.9) scale(1,1.025)" font-size="68.6" text-anchor="end">0.2</text>
<text transform="translate(249.0,573.3) scale(1,1.025)" font-size="68.6" text-anchor="end">0.0</text>
<text transform="translate(249.0,922.7) scale(1,1.025)" font-size="68.6" text-anchor="end">−0.2</text>
<text transform="translate(249.0,1272.1) scale(1,1.025)" font-size="68.6" text-anchor="end">−0.4</text>
<text transform="translate(359.2,1357.6) scale(1,1.05)" font-size="69.4" text-anchor="middle">10<tspan font-size="48.6" dy="-25.8">−11</tspan></text>
<text transform="translate(592.4,1357.6) scale(1,1.05)" font-size="69.4" text-anchor="middle">10<tspan font-size="48.6" dy="-25.8">−10</tspan></text>
<text transform="translate(825.5,1357.6) scale(1,1.05)" font-size="69.4" text-anchor="middle">10<tspan font-size="48.6" dy="-25.8">−9</tspan></text>
<text transform="translate(1058.7,1357.6) scale(1,1.05)" font-size="69.4" text-anchor="middle">10<tspan font-size="48.6" dy="-25.8">−8</tspan></text>
<text transform="translate(1291.8,1357.6) scale(1,1.05)" font-size="69.4" text-anchor="middle">10<tspan font-size="48.6" dy="-25.8">−7</tspan></text>
<text transform="translate(1525.0,1357.6) scale(1,1.05)" font-size="69.4" text-anchor="middle">10<tspan font-size="48.6" dy="-25.8">−6</tspan></text>
<text transform="translate(1758.1,1357.6) scale(1,1.05)" font-size="69.4" text-anchor="middle">10<tspan font-size="48.6" dy="-25.8">−5</tspan></text>
<text transform="translate(0,1474.2)" font-size="98.6"><tspan x="785.2">logI </tspan><tspan x="970.9" dy="0.8" font-size="110.4" textLength="32.8" lengthAdjust="spacingAndGlyphs">(</tspan><tspan x="1007.6" dy="-0.8">A</tspan><tspan x="1066.4">/cm</tspan><tspan x="1222.8" dy="-47.5" font-size="69.0">2</tspan><tspan x="1268.1" dy="48.3" font-size="110.4" textLength="32.8" lengthAdjust="spacingAndGlyphs">)</tspan></text>
<text transform="translate(77.0,641.5) rotate(-90) scale(1,1.025)" font-size="88.2" text-anchor="middle">Potential (V) vs. SCE</text>
<line x1="438.5" x2="565.3" y1="131.7" y2="131.7" stroke="#e41a1c" stroke-width="12.3" stroke-linecap="square"/>
<text transform="translate(583.2,153.9) scale(1,1.07)" font-size="69.4" text-anchor="start">316ss</text>
<line x1="438.5" x2="565.3" y1="216.5" y2="216.5" stroke="#377eb8" stroke-width="12.3" stroke-linecap="square"/>
<text transform="translate(581.8,238.4) scale(1,1.05)" font-size="69.4" text-anchor="start">F<tspan x="43.9" dy="16.76" font-size="53.4">N</tspan><tspan x="81.3" dy="-16.76">=0 sccm</tspan></text>
<line x1="438.5" x2="565.3" y1="316" y2="316" stroke="#4daf4a" stroke-width="12.3" stroke-linecap="square"/>
<text transform="translate(581.8,337.9) scale(1,1.05)" font-size="69.4" text-anchor="start">F<tspan x="43.9" dy="16.76" font-size="53.4">N</tspan><tspan x="81.3" dy="-16.76">=4 sccm</tspan></text>
<line x1="438.5" x2="565.3" y1="416" y2="416" stroke="#984ea3" stroke-width="12.3" stroke-linecap="square"/>
<text transform="translate(581.8,437.9) scale(1,1.05)" font-size="69.4" text-anchor="start">F<tspan x="43.9" dy="16.76" font-size="53.4">N</tspan><tspan x="81.3" dy="-16.76">=8 sccm</tspan></text>
<line x1="438.5" x2="565.3" y1="516.5" y2="516.5" stroke="#ff7f00" stroke-width="12.3" stroke-linecap="square"/>
<text transform="translate(581.8,538.4) scale(1,1.05)" font-size="69.4" text-anchor="start">F<tspan x="43.9" dy="16.76" font-size="53.4">N</tspan><tspan x="81.3" dy="-16.76">=12 sccm</tspan></text>
<line x1="438.5" x2="565.3" y1="616.5" y2="616.5" stroke="#ffff33" stroke-width="12.3" stroke-linecap="square"/>
<text transform="translate(581.8,638.4) scale(1,1.05)" font-size="69.4" text-anchor="start">F<tspan x="43.9" dy="16.76" font-size="53.4">N</tspan><tspan x="81.3" dy="-16.76">=16 sccm</tspan></text>
</svg></body></html>
